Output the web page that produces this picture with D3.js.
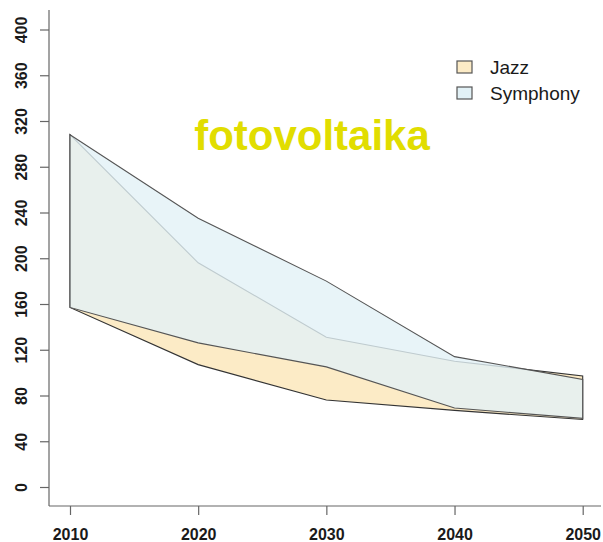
<!DOCTYPE html>
<html>
<head>
<meta charset="utf-8">
<script src="https://cdn.jsdelivr.net/npm/d3@7/dist/d3.min.js"></script>
<style>
  html, body { margin: 0; padding: 0; background: #fff; }
  svg { display: block; font-family: "Liberation Sans", Arial, sans-serif; }
</style>
</head>
<body>
<svg id="chart" width="603" height="542"></svg>
<script>
const years = [2010, 2020, 2030, 2040, 2050];
const jazzUpper = [308, 196, 131, 110, 97];
const jazzLower = [157, 107, 76, 67, 59];
const symphonyUpper = [308, 235, 180, 114, 94];
const symphonyLower = [157, 126, 105, 69, 60];
const yTicks = [0, 40, 80, 120, 160, 200, 240, 280, 320, 360, 400];
const xTicks = [2010, 2020, 2030, 2040, 2050];
const seriesNames = ["Jazz", "Symphony"];
const titleText = "fotovoltaika";

const svg = d3.select("#chart");
const x = d3.scaleLinear().domain([2010, 2050]).range([70, 582.7]);
const y = d3.scaleLinear().domain([0, 400]).range([487, 29.5]);

const axisColor = "#666";
const jazzFill = "#fcebc6";
const symFill = "rgb(226,241,246)";
const symOpacity = 0.8;

function bandPoints(upper, lower) {
  const pts = years.map((yr, i) => [x(yr), y(upper[i])]);
  for (let i = years.length - 1; i >= 0; i--) pts.push([x(years[i]), y(lower[i])]);
  return pts;
}
const line = d3.line();

// Jazz polygon
svg.append("path")
  .attr("d", line(bandPoints(jazzUpper, jazzLower)) + "Z")
  .attr("fill", jazzFill)
  .attr("stroke", "#333")
  .attr("stroke-width", 1.1);

// Symphony polygon (semi-transparent)
svg.append("path")
  .attr("d", line(bandPoints(symphonyUpper, symphonyLower)) + "Z")
  .attr("fill", symFill)
  .attr("fill-opacity", symOpacity)
  .attr("stroke", "#555")
  .attr("stroke-width", 1.1);

// Axes frame (L-shaped)
const left = 49, bottom = 506;
svg.append("line").attr("x1", left).attr("x2", left).attr("y1", 10).attr("y2", bottom)
  .attr("stroke", axisColor).attr("stroke-width", 1.2);
svg.append("line").attr("x1", left).attr("x2", 601).attr("y1", bottom).attr("y2", bottom)
  .attr("stroke", axisColor).attr("stroke-width", 1.2);

// Y axis
const yAxis = d3.axisLeft(y).tickValues(yTicks).tickSize(9).tickSizeOuter(0).tickFormat(d3.format("d"));
const gy = svg.append("g").attr("transform", `translate(${left},0)`).call(yAxis);
gy.select(".domain").remove();
gy.selectAll(".tick line").attr("stroke", axisColor).attr("stroke-width", 1.2);
gy.selectAll(".tick text")
  .attr("x", 0).attr("dy", null)
  .attr("transform", "translate(-22,0) rotate(-90)")
  .attr("text-anchor", "middle")
  .attr("fill", "#1a1a1a")
  .style("font-size", "16px")
  .style("font-weight", "bold")
  .style("font-family", "'Liberation Sans', Arial, sans-serif");

// X axis
const xAxis = d3.axisBottom(x).tickValues(xTicks).tickSize(9).tickSizeOuter(0).tickFormat(d3.format("d"));
const gx = svg.append("g").attr("transform", `translate(0,${bottom})`).call(xAxis);
gx.select(".domain").remove();
gx.selectAll(".tick line").attr("stroke", axisColor).attr("stroke-width", 1.2);
gx.selectAll(".tick text")
  .attr("y", 34).attr("dy", null)
  .attr("fill", "#1a1a1a")
  .style("font-size", "16px")
  .style("font-weight", "bold")
  .style("font-family", "'Liberation Sans', Arial, sans-serif");

// Title
svg.append("text")
  .attr("x", 312).attr("y", 150)
  .attr("text-anchor", "middle")
  .attr("fill", "#e1dd00")
  .style("font-size", "42px")
  .style("font-weight", "bold")
  .text(titleText);

// Legend
const legendFills = [jazzFill, symFill];
const lg = svg.append("g");
seriesNames.forEach((name, i) => {
  lg.append("rect")
    .attr("x", 457).attr("y", 61 + i * 26)
    .attr("width", 15).attr("height", 12)
    .attr("fill", legendFills[i])
    .attr("stroke", "#555").attr("stroke-width", 1.2);
  lg.append("text")
    .attr("x", 490).attr("y", 74 + i * 25.5)
    .attr("fill", "#1a1a1a")
    .style("font-size", "19px")
    .text(name);
});
</script>
</body>
</html>
